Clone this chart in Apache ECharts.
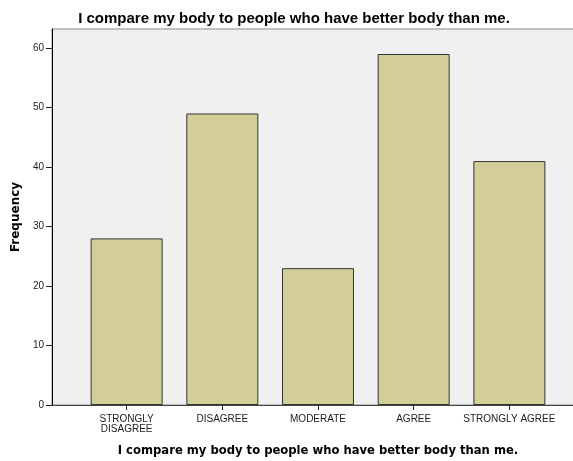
<!DOCTYPE html>
<html>
<head>
<meta charset="utf-8">
<script src="https://cdn.jsdelivr.net/npm/echarts@6/dist/echarts.min.js"></script>
<style>
  html, body { margin: 0; padding: 0; background: #fff; }
  #chart { width: 573px; height: 461px; }
</style>
</head>
<body>
<div id="chart"></div>
<script>
// Response categories and their frequencies
const categories = ['STRONGLY\nDISAGREE', 'DISAGREE', 'MODERATE', 'AGREE', 'STRONGLY AGREE'];
const frequencies = [28, 49, 23, 59, 41];
const yTicks = [0, 10, 20, 30, 40, 50, 60];
const chartTitle = 'I compare my body to people who have better body than me.';

const positions = categories.map((_, i) => i);

const chart = echarts.init(document.getElementById('chart'), null, { renderer: 'canvas' });
chart.setOption({
  animation: false,
  title: {
    text: chartTitle,
    left: 289,
    textAlign: 'center',
    top: 6,
    textStyle: { fontFamily: 'Liberation Sans, Arial, sans-serif', fontSize: 15, fontWeight: 'bold', color: '#000' }
  },
  grid: {
    left: 52, right: -11, top: 29, bottom: 56,
    outerBoundsMode: 'none',
    show: true,
    backgroundColor: '#f0f0f0',
    borderColor: '#8a8a8a',
    borderWidth: 1
  },
  xAxis: {
    type: 'value',
    min: -0.78,
    max: 4.78,
    splitLine: { show: false },
    axisLine: { show: true, onZero: false, lineStyle: { color: '#444', width: 1 } },
    axisTick: { show: true, customValues: positions, length: 5, lineStyle: { color: '#222' } },
    axisLabel: {
      customValues: positions,
      formatter: v => categories[Math.round(v)],
      fontFamily: 'Liberation Sans, Arial, sans-serif',
      fontSize: 10,
      color: '#222',
      lineHeight: 10,
      margin: 9
    },
    name: chartTitle,
    nameLocation: 'middle',
    nameGap: 40,
    nameTextStyle: { fontFamily: 'DejaVu Sans, Verdana, sans-serif', fontSize: 11.6, fontWeight: 'bold', color: '#000' }
  },
  yAxis: {
    type: 'value',
    min: 0,
    max: 63.2,
    splitLine: { show: false },
    axisLine: { show: true, onZero: false, lineStyle: { color: '#000', width: 1 } },
    axisTick: { show: true, customValues: yTicks, length: 6, lineStyle: { color: '#222' } },
    axisLabel: {
      customValues: yTicks,
      fontFamily: 'Liberation Sans, Arial, sans-serif',
      fontSize: 10,
      color: '#222',
      margin: 8
    },
    name: 'Frequency',
    nameLocation: 'middle',
    nameRotate: 90,
    nameGap: 26,
    nameTextStyle: { fontFamily: 'DejaVu Sans, Verdana, sans-serif', fontSize: 12, fontWeight: 'bold', color: '#000' }
  },
  series: [{
    type: 'bar',
    data: frequencies.map((f, i) => [positions[i], f]),
    barWidth: 72,
    itemStyle: { color: '#d3ce98', borderColor: '#333', borderWidth: 1 }
  }]
});
</script>
</body>
</html>
